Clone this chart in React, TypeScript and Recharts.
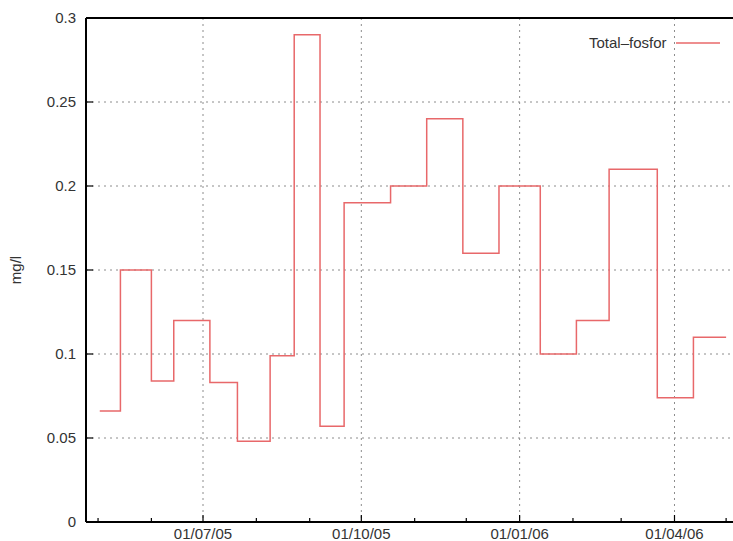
import {
  LineChart, Line, XAxis, YAxis, CartesianGrid, ReferenceLine, Legend,
} from 'recharts';

// sample dates and measured total phosphorus (mg/l)
const SAMPLE_DATES = [
  '2005-05-02', '2005-05-14', '2005-06-01', '2005-06-14', '2005-07-05',
  '2005-07-21', '2005-08-09', '2005-08-23', '2005-09-07', '2005-09-21',
  '2005-10-18', '2005-11-08', '2005-11-29', '2005-12-20', '2006-01-13',
  '2006-02-03', '2006-02-22', '2006-03-22', '2006-04-12', '2006-05-01',
];
const TOTAL_FOSFOR = [
  0.066, 0.15, 0.084, 0.12, 0.083,
  0.048, 0.099, 0.29, 0.057, 0.19,
  0.2, 0.24, 0.16, 0.2, 0.1,
  0.12, 0.21, 0.074, 0.11, 0.11,
];

const X_DOMAIN = ['2005-04-24', '2006-05-05'];
const MONTH_TICKS = [
  '2005-05-01', '2005-06-01', '2005-07-01', '2005-08-01', '2005-09-01',
  '2005-10-01', '2005-11-01', '2005-12-01', '2006-01-01', '2006-02-01',
  '2006-03-01', '2006-04-01', '2006-05-01',
];
const QUARTER_TICKS = ['2005-07-01', '2005-10-01', '2006-01-01', '2006-04-01'];
const Y_TICKS = [0, 0.05, 0.1, 0.15, 0.2, 0.25, 0.3];

const FONT = '"Liberation Sans", Arial, sans-serif';
const TEXT = '#333333';
const RED = '#e8686a';

const ts = (d: string) => Date.parse(d + 'T00:00:00Z');

const data = SAMPLE_DATES.map((d, i) => ({ date: ts(d), value: TOTAL_FOSFOR[i] }));
const quarterSet = new Set(QUARTER_TICKS.map(ts));

function fmtDate(t: number) {
  const d = new Date(t);
  const p = (n: number) => String(n).padStart(2, '0');
  return `${p(d.getUTCDate())}/${p(d.getUTCMonth() + 1)}/${p(d.getUTCFullYear() % 100)}`;
}

function XTick({ x, y, payload }: any) {
  const major = quarterSet.has(payload.value);
  return (
    <g>
      <line x1={x} y1={y} x2={x} y2={y - (major ? 7 : 4)} stroke="#000" strokeWidth={1.2} />
      {major && (
        <text x={x} y={y + 17} textAnchor="middle" fill={TEXT} fontSize={15} fontFamily={FONT}>
          {fmtDate(payload.value)}
        </text>
      )}
    </g>
  );
}

function YTick({ x, y, payload }: any) {
  return (
    <g>
      <line x1={x} y1={y} x2={x + 7} y2={y} stroke="#000" strokeWidth={1.2} />
      <text x={x - 10} y={y} dy="0.36em" textAnchor="end" fill={TEXT} fontSize={15} fontFamily={FONT}>
        {String(payload.value)}
      </text>
    </g>
  );
}

function LegendBox() {
  return (
    <div style={{ display: 'flex', alignItems: 'center', fontFamily: FONT, fontSize: 15, color: TEXT, lineHeight: '18px' }}>
      <span>Total–fosfor</span>
      <svg width={46} height={4} style={{ marginLeft: 9 }}>
        <line x1={0} y1={2} x2={44} y2={2} stroke={RED} strokeWidth={1.5} />
      </svg>
    </div>
  );
}

export default function App() {
  return (
    <div style={{ position: 'absolute', left: 0, top: 0, background: '#fff' }}>
      <LineChart width={733} height={541} data={data} margin={{ top: 18, right: 0, left: 0, bottom: 0 }}>
        <CartesianGrid
          stroke="#8c8c8c"
          strokeDasharray="2 4"
          verticalValues={QUARTER_TICKS.map(ts)}
          horizontalValues={Y_TICKS}
        />
        <XAxis
          dataKey="date"
          type="number"
          domain={X_DOMAIN.map(ts)}
          ticks={MONTH_TICKS.map(ts)}
          interval={0}
          height={19}
          tickSize={0}
          tickMargin={0}
          tickLine={false}
          axisLine={{ stroke: '#000', strokeWidth: 2 }}
          tick={<XTick />}
        />
        <YAxis
          type="number"
          domain={[0, 0.3]}
          ticks={Y_TICKS}
          interval={0}
          width={86}
          tickSize={0}
          tickMargin={0}
          tickLine={false}
          axisLine={{ stroke: '#000', strokeWidth: 2 }}
          tick={<YTick />}
          label={{
            content: ({ viewBox }: any) => (
              <text
                x={viewBox.x + 16}
                y={viewBox.y + viewBox.height / 2}
                transform={`rotate(-90 ${viewBox.x + 16} ${viewBox.y + viewBox.height / 2})`}
                textAnchor="middle"
                dy="0.36em"
                fill={TEXT}
                fontSize={15}
                fontFamily={FONT}
              >
                mg/l
              </text>
            ),
          }}
        />
        <ReferenceLine y={0.3} stroke="#000" strokeWidth={2} />
        <Legend
          layout="vertical"
          align="center"
          verticalAlign="middle"
          content={<LegendBox />}
          wrapperStyle={{ top: 34, left: 589, width: 140, height: 18 }}
        />
        <Line
          type="stepAfter"
          dataKey="value"
          name="Total–fosfor"
          stroke={RED}
          strokeWidth={1.5}
          dot={false}
          isAnimationActive={false}
        />
      </LineChart>
    </div>
  );
}
